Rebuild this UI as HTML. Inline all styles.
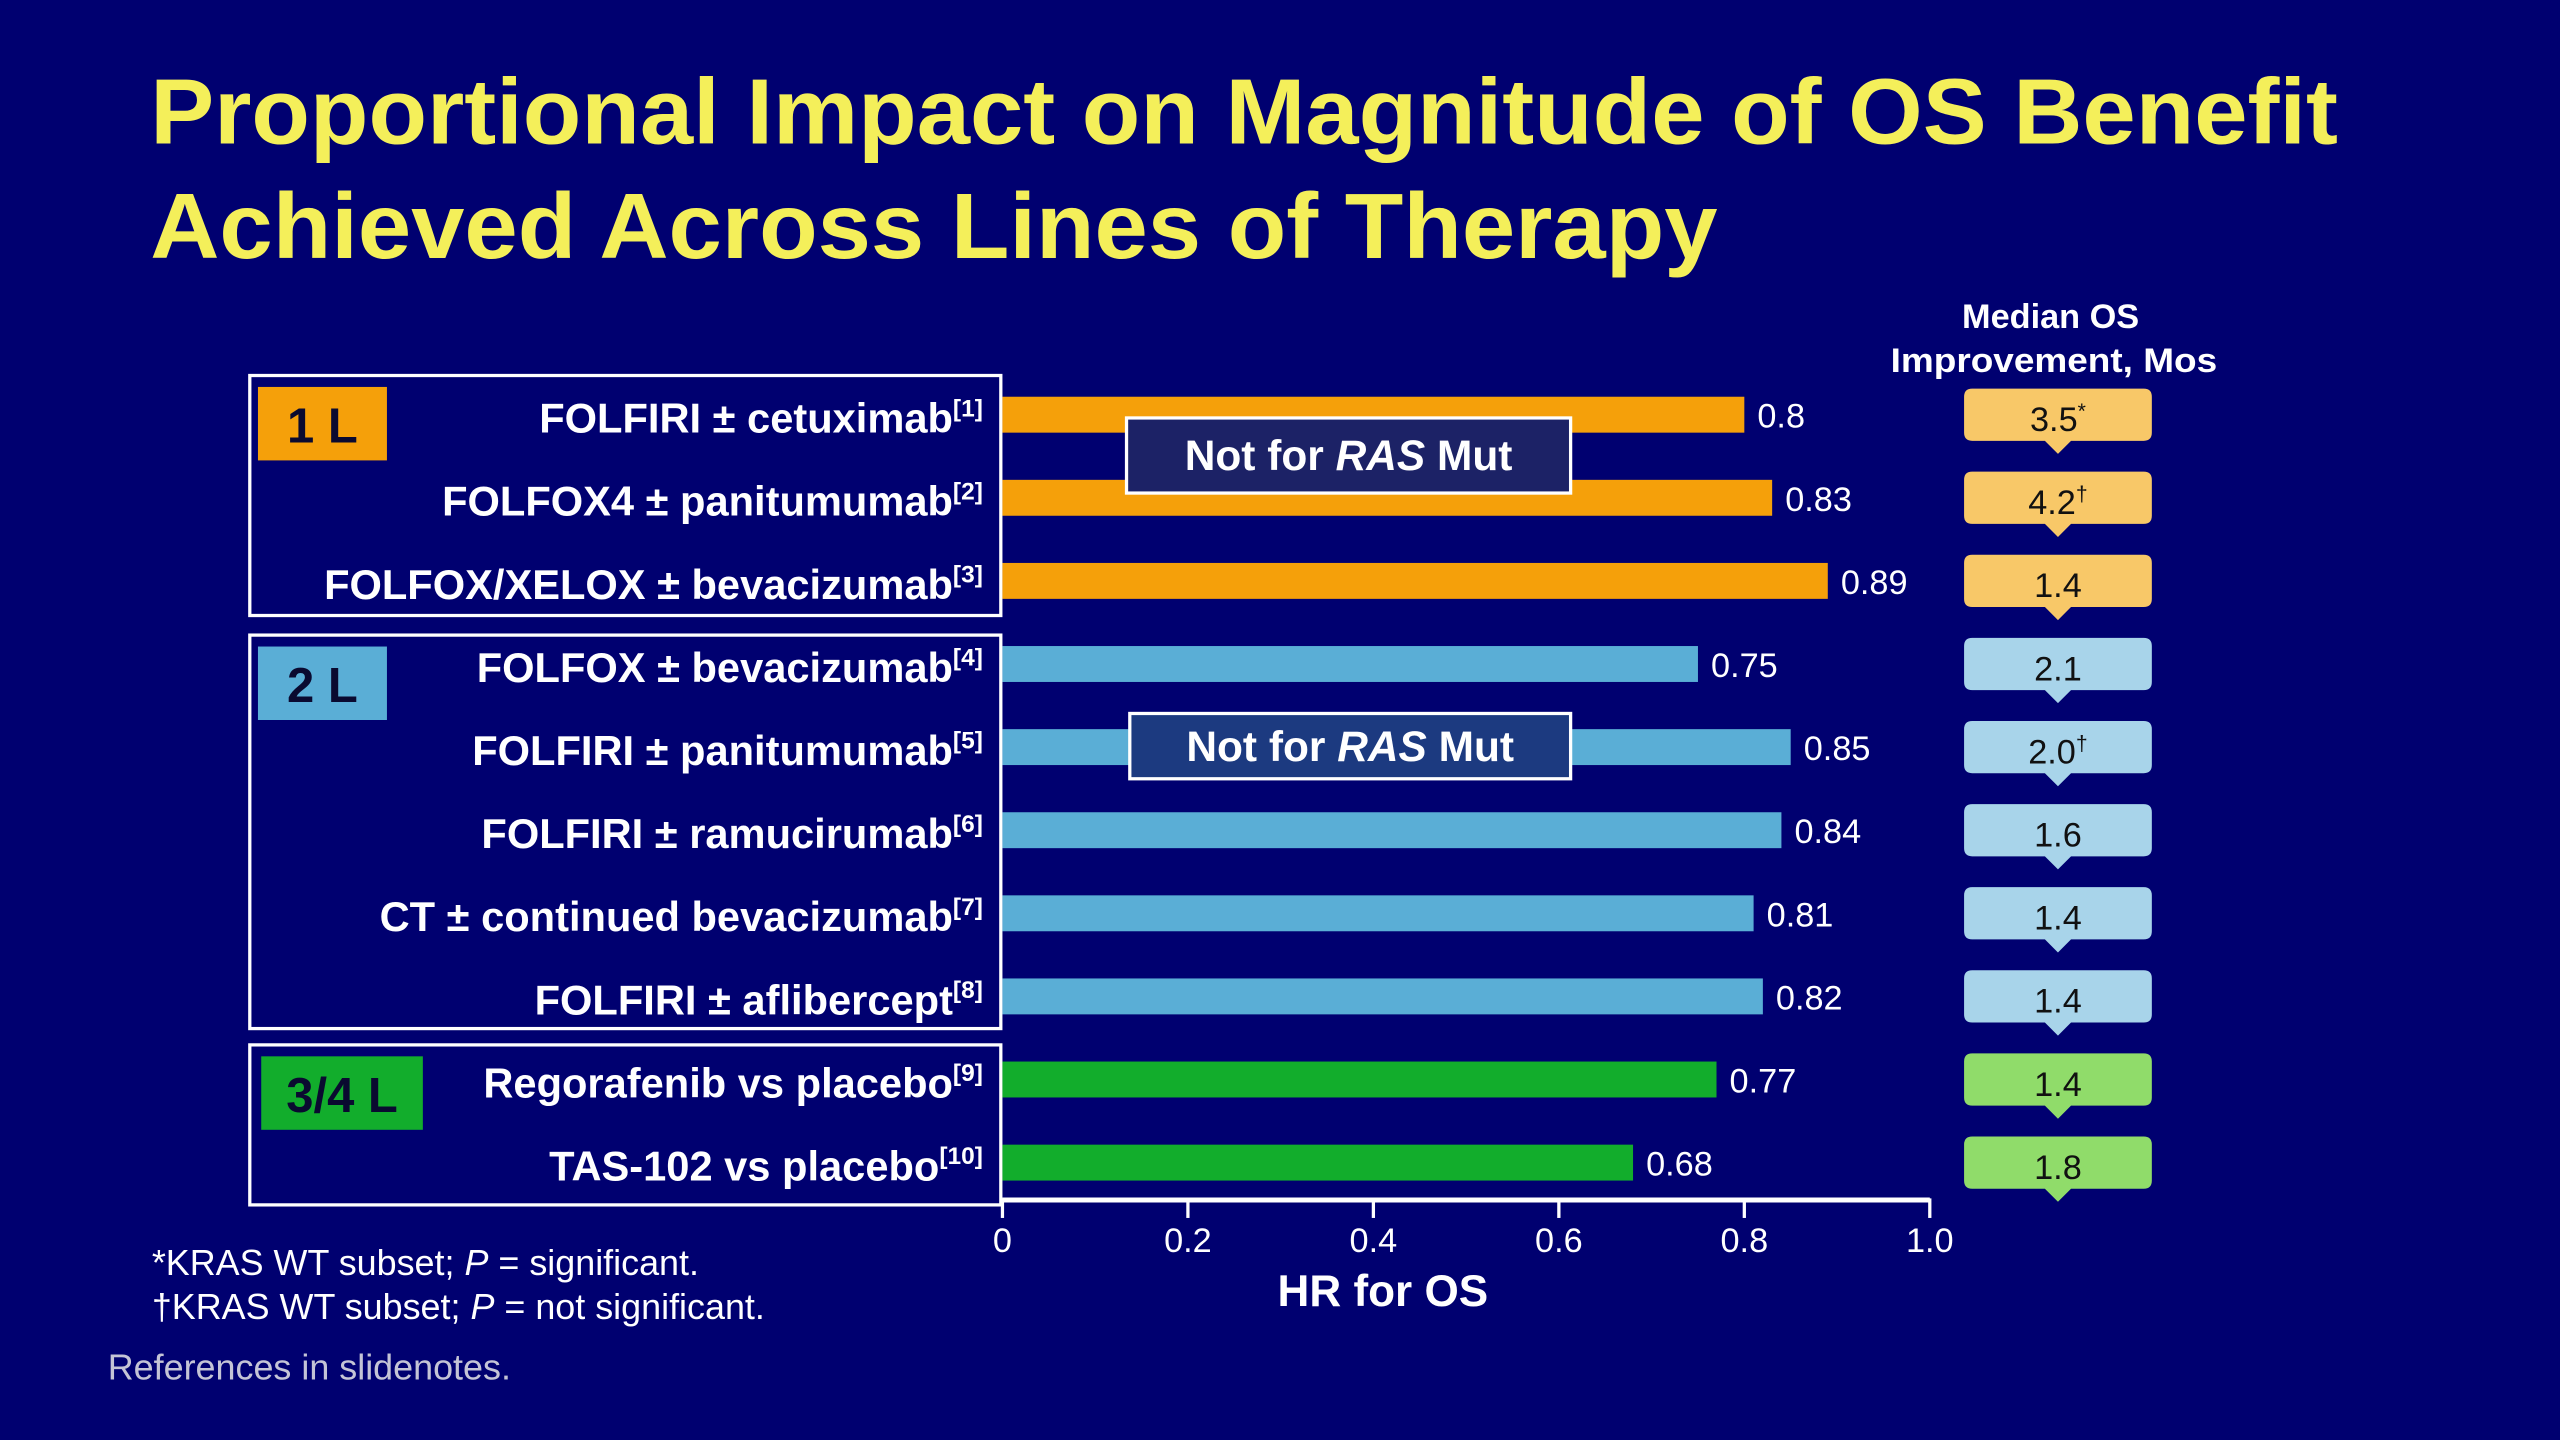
<!DOCTYPE html>
<html><head><meta charset="utf-8"><style>
html,body{margin:0;padding:0;background:#000070;}
svg{display:block;font-family:"Liberation Sans",Arial,sans-serif;}
</style></head><body>
<svg id="chart" width="2560" height="1440" viewBox="0 0 1568 882" xmlns="http://www.w3.org/2000/svg">
<rect width="1568" height="882" fill="#000070"/>
<text x="92" y="88" font-size="57" font-weight="bold" fill="#f4ef5a" textLength="1340" lengthAdjust="spacingAndGlyphs">Proportional Impact on Magnitude of OS Benefit</text>
<text x="92" y="158" font-size="57" font-weight="bold" fill="#f4ef5a" textLength="960" lengthAdjust="spacingAndGlyphs">Achieved Across Lines of Therapy</text>
<text x="1256" y="201" font-size="21" font-weight="bold" fill="#fff" text-anchor="middle">Median OS</text>
<text x="1258" y="228" font-size="21" font-weight="bold" fill="#fff" text-anchor="middle" textLength="200" lengthAdjust="spacingAndGlyphs">Improvement, Mos</text>
<g id="groups"></g>
<g id="bars"></g>
<g id="axis"></g>
<g id="badges"></g>
<g>
<rect x="690" y="256" width="272" height="46" fill="#1c2266" stroke="#fff" stroke-width="2"/>
<text x="826" y="288" font-size="26" font-weight="bold" fill="#fff" text-anchor="middle">Not for <tspan font-style="italic">RAS</tspan> Mut</text></g>
<g>
<rect x="692" y="437" width="270" height="40" fill="#1c3a80" stroke="#fff" stroke-width="2"/>
<text x="827" y="466" font-size="26" font-weight="bold" fill="#fff" text-anchor="middle">Not for <tspan font-style="italic">RAS</tspan> Mut</text></g>
<text x="93" y="781" font-size="22" fill="#fff">*KRAS WT subset; <tspan font-style="italic">P</tspan> = significant.</text>
<text x="93" y="808" font-size="22" fill="#fff">†KRAS WT subset; <tspan font-style="italic">P</tspan> = not significant.</text>
<text x="66" y="845" font-size="22" fill="#c4c4d6">References in slidenotes.</text>
</svg>
<script>
const labels=["FOLFIRI ± cetuximab","FOLFOX4 ± panitumumab","FOLFOX/XELOX ± bevacizumab","FOLFOX ± bevacizumab","FOLFIRI ± panitumumab","FOLFIRI ± ramucirumab","CT ± continued bevacizumab","FOLFIRI ± aflibercept","Regorafenib vs placebo","TAS-102 vs placebo"];
const refs=["[1]","[2]","[3]","[4]","[5]","[6]","[7]","[8]","[9]","[10]"];
const hrValues=[0.8,0.83,0.89,0.75,0.85,0.84,0.81,0.82,0.77,0.68];
const hrLabels=["0.8","0.83","0.89","0.75","0.85","0.84","0.81","0.82","0.77","0.68"];
const lineGroup=[0,0,0,1,1,1,1,1,2,2];
const osGain=["3.5","4.2","1.4","2.1","2.0","1.6","1.4","1.4","1.4","1.8"];
const osMark=["*","†","","","†","","","","",""];
const ticks=[0,0.2,0.4,0.6,0.8,1.0];
const tickLabels=["0","0.2","0.4","0.6","0.8","1.0"];
const groupNames=["1 L","2 L","3/4 L"];

const NS="http://www.w3.org/2000/svg";
const X0=614,X1=1182,rowTop=254,rowStep=50.9,barH=22;
const xs=v=>X0+(X1-X0)*v;
const ys=i=>rowTop+i*rowStep;
const barCol=["#f5a00a","#5aaed6","#12ad2c"];
const badgeCol=["#f8c868","#a8d4ea","#90dc6a"];
const boxTops=[230,389,640],boxBots=[377,630,738];
function mk(t,a,p){const e=document.createElementNS(NS,t);for(const k in a)e.setAttribute(k,a[k]);p.appendChild(e);return e;}
const gG=document.getElementById('groups'),gB=document.getElementById('bars'),gA=document.getElementById('axis'),gD=document.getElementById('badges');

groupNames.forEach((n,g)=>{
  const top=boxTops[g],bot=boxBots[g];
  const r=mk('rect',{x:153,y:top,width:460,height:bot-top,fill:'none',stroke:'#fff','stroke-width':2},gG);
  
  
  const w=g===2?99:79;
  const b=mk('rect',{x:g===2?160:158,y:top+7,width:w,height:45,fill:barCol[g]},gG);
  
  
  const t=mk('text',{x:(g===2?160:158)+w/2,y:top+41,'font-size':30,'font-weight':'bold',fill:'#0a0a30','text-anchor':'middle'},gG);
  t.textContent=n;
  
  
});

hrValues.forEach((v,i)=>{
  const y=ys(i);
  const lt=mk('text',{x:602,y:y+11,'font-size':25.5,'font-weight':'bold',fill:'#fff','text-anchor':'end'},gB);
  
  
  const s1=mk('tspan',{},lt);s1.textContent=labels[i];
  const s2=mk('tspan',{'font-size':15,dy:-10},lt);s2.textContent=refs[i];
  const r=mk('rect',{x:X0,y:y-barH/2,width:xs(v)-X0,height:barH,fill:barCol[lineGroup[i]]},gB);
  
  
  const vt=mk('text',{x:xs(v)+8,y:y+8,'font-size':21,fill:'#fff'},gB);
  vt.textContent=hrLabels[i];
  
  
  const g=lineGroup[i],bx=1203,bw=115,bt=y-16,bh=32;
  const p=mk('path',{d:`M${bx+5},${bt} h${bw-10} q5,0 5,5 v${bh-10} q0,5 -5,5 h-${bw/2-13} l-8,8 l-8,-8 h-${bw/2-13} q-5,0 -5,-5 v-${bh-10} q0,-5 5,-5 z`,fill:badgeCol[g]},gD);
  
  
  const ot=mk('text',{x:bx+bw/2,y:bt+26,'font-size':21,fill:'#111','text-anchor':'middle'},gD);
  
  
  const o1=mk('tspan',{},ot);o1.textContent=osGain[i];
  if(osMark[i]){const o2=mk('tspan',{'font-size':13,dy:-8},ot);o2.textContent=osMark[i];}
});

const al=mk('line',{x1:X0,y1:735,x2:X1,y2:735,stroke:'#fff','stroke-width':3},gA);


ticks.forEach((t,i)=>{
  const l=mk('line',{x1:xs(t),y1:734,x2:xs(t),y2:746,stroke:'#fff','stroke-width':2},gA);
  
  
  const tt=mk('text',{x:xs(t),y:767,'font-size':21,fill:'#fff','text-anchor':'middle'},gA);
  tt.textContent=tickLabels[i];
  
  
});
const xt=mk('text',{x:847,y:800,'font-size':27,'font-weight':'bold',fill:'#fff','text-anchor':'middle'},gA);
xt.textContent='HR for OS';


</script>
</body></html>
